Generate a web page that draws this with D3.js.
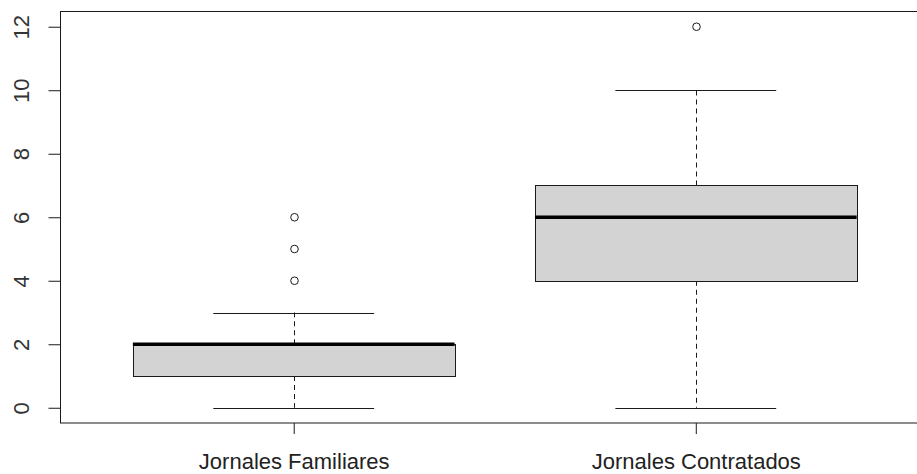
<!DOCTYPE html>
<html>
<head>
<meta charset="utf-8">
<script src="https://cdn.jsdelivr.net/npm/d3@7"></script>
<style>
  html, body { margin: 0; padding: 0; background: #fff; }
  svg { display: block; font-family: "Liberation Sans", Arial, sans-serif; }
</style>
</head>
<body>
<svg id="chart" width="917" height="474"></svg>
<script>
// ---- data ----
const categories = ["Jornales Familiares", "Jornales Contratados"];
const whiskerLow  = [0, 0];
const q1          = [1, 4];
const medians     = [2, 6];
const q3          = [2, 7];
const whiskerHigh = [3, 10];
const outliers    = [[4, 5, 6], [12]];
const yTicks      = [0, 2, 4, 6, 8, 10, 12];

(function () {
const boxes = categories.map((c, i) => ({
  name: c, pos: i + 1,
  lo: whiskerLow[i], q1: q1[i], med: medians[i], q3: q3[i], hi: whiskerHigh[i],
  out: outliers[i]
}));

const svg = d3.select("#chart");
const pLeft = 60.5, pRight = 929, pTop = 11.5, pBottom = 423;

const x = d3.scaleLinear().domain([0.42, 2.58]).range([pLeft, pRight]);
const y = d3.scaleLinear().domain([-0.48, 12.48]).range([pBottom, pTop]);

const boxW = 0.8, capW = 0.4;
const ink = "#1a1a1a";

const g = svg.append("g");

boxes.forEach(b => {
  const cx = Math.round(x(b.pos)) + 0.5;
  g.append("line").attr("x1", cx).attr("x2", cx).attr("y1", y(b.q3)).attr("y2", y(b.hi))
    .attr("stroke", ink).attr("stroke-width", 1).attr("stroke-dasharray", "5,4");
  g.append("line").attr("x1", cx).attr("x2", cx).attr("y1", y(b.q1)).attr("y2", y(b.lo))
    .attr("stroke", ink).attr("stroke-width", 1).attr("stroke-dasharray", "5,4");
  [b.lo, b.hi].forEach(v => {
    g.append("line")
      .attr("x1", x(b.pos - capW / 2)).attr("x2", x(b.pos + capW / 2))
      .attr("y1", Math.round(y(v)) + 0.5).attr("y2", Math.round(y(v)) + 0.5)
      .attr("stroke", ink).attr("stroke-width", 1);
  });
  g.append("rect")
    .attr("x", Math.round(x(b.pos - boxW / 2)) + 0.5)
    .attr("width", Math.round(x(b.pos + boxW / 2)) - Math.round(x(b.pos - boxW / 2)))
    .attr("y", Math.round(y(b.q3)) + 0.5).attr("height", Math.round(y(b.q1)) - Math.round(y(b.q3)))
    .attr("fill", "#d3d3d3").attr("stroke", ink).attr("stroke-width", 1);
  g.append("line")
    .attr("x1", x(b.pos - boxW / 2)).attr("x2", x(b.pos + boxW / 2))
    .attr("y1", y(b.med)).attr("y2", y(b.med))
    .attr("stroke", "#000").attr("stroke-width", 3.5);
  g.selectAll(null).data(b.out).enter().append("circle")
    .attr("cx", cx).attr("cy", d => y(d)).attr("r", 3.8)
    .attr("fill", "none").attr("stroke", ink).attr("stroke-width", 1);
});

// frame
svg.append("rect").attr("x", pLeft).attr("y", pTop)
  .attr("width", pRight - pLeft).attr("height", pBottom - pTop)
  .attr("fill", "none").attr("stroke", ink).attr("stroke-width", 1);

// y axis
const yAxis = svg.append("g").attr("transform", `translate(${pLeft},0)`)
  .call(d3.axisLeft(y).tickValues(yTicks).tickSize(12).tickSizeOuter(0));
yAxis.select(".domain").remove();
yAxis.selectAll(".tick line").attr("stroke", ink);
yAxis.selectAll(".tick text")
  .attr("transform", "translate(-39,0) rotate(-90)")
  .attr("x", 0).attr("y", 0).attr("dy", "0.35em")
  .attr("text-anchor", "middle")
  .attr("font-size", 22).attr("fill", "#333")
  .attr("font-family", "Liberation Sans, Arial, sans-serif");

// x axis
const xAxis = svg.append("g").attr("transform", `translate(0,${pBottom})`)
  .call(d3.axisBottom(x).tickValues([1, 2]).tickFormat((d, i) => categories[i]).tickSize(11).tickSizeOuter(0));
xAxis.select(".domain").remove();
xAxis.selectAll(".tick line").attr("stroke", ink);
xAxis.selectAll(".tick text")
  .attr("y", 46).attr("dy", 0)
  .attr("font-size", 22).attr("fill", "#222")
  .attr("font-family", "Liberation Sans, Arial, sans-serif");
})();
</script>
</body>
</html>
